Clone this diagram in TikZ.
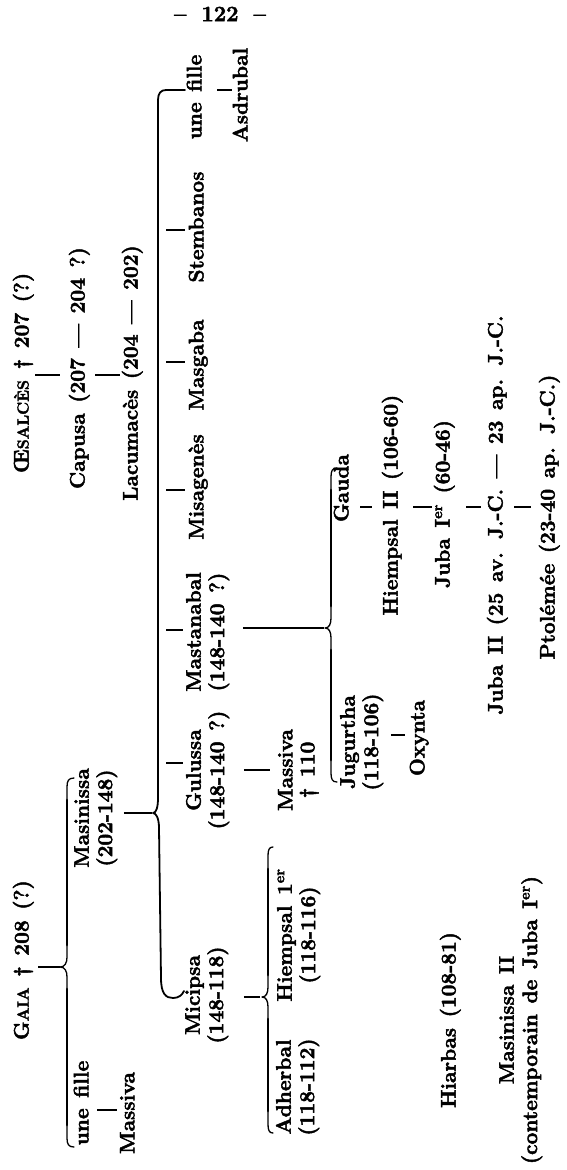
\documentclass[tikz,border=0pt]{standalone}
\usepackage{fontspec}
\setmainfont{Latin Modern Roman}[BoldFeatures={FakeBold=2.2}]
\newcommand\smc[1]{{\fontsize{16}{22}\selectfont #1}}
\newcommand\lblfont{\fontsize{21}{22}\selectfont\bfseries\spaceskip=10.5pt plus 2pt minus 1pt\relax}
\tikzset{
  lbl/.style={rotate=90, inner sep=0pt, align=center, font=\lblfont},
  conn/.style={line width=1.7pt},
  brace/.style={line width=1.3pt, line cap=round, line join=round},
  heavy/.style={line width=2.7pt, line cap=round},
  bracket/.style={line width=1.8pt, line cap=round, line join=round},
}
% vertical curly brace pointing left: X y1 ym y2 depth endcurl name
\newcommand\vbrace[7]{%
  \coordinate (#7) at ({#1-#5},#3);
  \draw[brace] ({#1+#6},#2) .. controls ({#1+0.2*#6},#2) and (#1,{#2+3}) .. (#1,{#2+9})
     -- (#1,{#3-10}) .. controls (#1,{#3-4}) and ({#1-0.3*#5},#3) .. (#7)
     .. controls ({#1-0.3*#5},#3) and (#1,{#3+4}) .. (#1,{#3+10})
     -- (#1,{#4-9}) .. controls (#1,{#4-3}) and ({#1+0.2*#6},#4) .. ({#1+#6},#4);
  \draw[heavy] (#1,{#2+22}) -- (#1,{#3-22});
  \draw[heavy] (#1,{#3+22}) -- (#1,{#4-22});
}
\begin{document}
\begin{tikzpicture}[x=1pt,y=-1pt]
\useasboundingbox (0,0) rectangle (567,1170);
\fill[white] (0,0) rectangle (567,1170);

% page number
\node[inner sep=0pt, font=\fontsize{22}{22}\selectfont\bfseries] (page) at (220,14) {–\hspace{15pt}122\hspace{15pt}–};

% roots
\node[lbl] (oes) at (24,373) {\strut Œ\smc{SALCÈS} † 207 (?)};
\node[lbl] (capusa) at (80,368) {\strut Capusa (207 — 204 ?)};
\node[lbl] (lacum) at (133,373) {\strut Lacumacès (204 — 202)};
\node[lbl] (gaia) at (24,960) {\strut G\smc{AIA} † 208 (?)};
\node[lbl] (fille1) at (84,1103) {\strut une fille};
\node[lbl] (massiva1) at (130,1113) {\strut Massiva};
\node[lbl] (masinissa) at (96,818) {\strut Masinissa\\\strut(202-148)};

% children of Masinissa
\node[lbl] (micipsa) at (207,995) {\strut Micipsa\\\strut(148-118)};
\node[lbl] (gulussa) at (208,770) {\strut Gulussa\\\strut(148-140 ?)};
\node[lbl] (mastanabal) at (208,632) {\strut Mastanabal\\\strut(148-140 ?)};
\node[lbl] (misagenes) at (199,487) {\strut Misagenès};
\node[lbl] (masgaba) at (199,365) {\strut Masgaba};
\node[lbl] (stembanos) at (199,227) {\strut Stembanos};
\node[lbl] (fille2) at (197,97) {\strut une fille};
\node[lbl] (asdrubal) at (243,95) {\strut Asdrubal};

% grandchildren
\node[lbl] (adherbal) at (298,1087) {\strut Adherbal\\\strut(118-112)};
\node[lbl] (hiempsal1) at (299,935) {\strut Hiempsal 1\textsuperscript{er}\\\strut(118-116)};
\node[lbl] (massiva2) at (299,770) {\strut Massiva\\\strut† 110};
\node[lbl] (jugurtha) at (362,742) {\strut Jugurtha\\\strut(118-106)};
\node[lbl] (oxynta) at (420,738) {\strut Oxynta};
\node[lbl] (gauda) at (344,488) {\strut Gauda};
\node[lbl] (hiempsal2) at (393,505) {\strut Hiempsal II (106-60)};
\node[lbl] (juba1) at (445,504) {\strut Juba I\textsuperscript{er} (60-46)};
\node[lbl] (juba2) at (498,515) {\strut Juba II (25 av. J.-C. — 23 ap. J.-C.};
\node[lbl] (ptolemee) at (550,517) {\strut Ptolémée (23-40 ap. J.-C.)};
\node[lbl] (hiarbas) at (451,1020) {\strut Hiarbas (108-81)};
\node[lbl] (masinissa2) at (521,1020) {\strut Masinissa II\\\strut(contemporain de Juba I\textsuperscript{er})};

% braces
\vbrace{67}{778}{967}{1147}{7}{7}{b1tip}
\vbrace{268}{847}{997}{1133}{6}{5}{b3tip}
\vbrace{331}{468}{628}{782}{6}{6}{b4tip}

% big bracket of Masinissa's children
\coordinate (b2tip) at (153,813);
\coordinate (b2r) at (166,0);
\draw[bracket] (185,90) -- (166,90) .. controls (161,90) and (158,93) .. (158,100)
   -- (158,798) .. controls (158,808) and (156,813) .. (b2tip)
   .. controls (156,813) and (159,818) .. (159,828)
   -- (161,978) .. controls (161,994) and (166,998) .. (173,998)
   .. controls (179,998) and (182,995) .. (184,991);

% connectors
\draw[conn, shorten >=9pt] (oes.south |- 0,375) -- (capusa.north |- 0,375);
\draw[conn, shorten <=4pt, shorten >=2pt] (capusa.south |- 0,375) -- (lacum.north |- 0,375);
\draw[conn, shorten <=3pt] (gaia.south |- 0,967) -- (b1tip);
\draw[conn, shorten <=2pt, shorten >=2pt] (fille1.south |- 0,1110) -- (massiva1.north |- 0,1110);
\draw[conn, shorten <=5pt, shorten >=1pt] (masinissa.south |- 0,813) -- (b2tip);
\draw[conn, shorten >=3pt] (b2r |- 0,230) -- (stembanos.north |- 0,230);
\draw[conn, shorten >=3pt] (b2r |- 0,362) -- (masgaba.north |- 0,362);
\draw[conn, shorten >=3pt] (b2r |- 0,490) -- (misagenes.north |- 0,490);
\draw[conn, shorten >=2pt] (b2r |- 0,630) -- (mastanabal.north |- 0,630);
\draw[conn, shorten >=2pt] (b2r |- 0,763) -- (gulussa.north |- 0,763);
\draw[conn, shorten <=9pt] (fille2.south |- 0,90) -- (asdrubal.north |- 0,90);
\draw[conn, shorten <=14pt, shorten >=2pt] (micipsa.south |- 0,997) -- (b3tip);
\draw[conn, shorten <=13pt, shorten >=7pt] (gulussa.south |- 0,770) -- (massiva2.north |- 0,770);
\draw[conn, shorten <=12pt, shorten >=1pt] (mastanabal.south |- 0,628) -- (b4tip);
\draw[conn, shorten <=6pt, shorten >=4pt] (jugurtha.south |- 0,735) -- (oxynta.north |- 0,735);
\draw[conn, shorten <=5pt, shorten >=10pt] (gauda.south |- 0,507) -- (hiempsal2.north |- 0,507);
\draw[conn, shorten <=9pt, shorten >=2pt] (hiempsal2.south |- 0,507) -- (juba1.north |- 0,507);
\draw[conn, shorten <=10pt, shorten >=6pt] (juba1.south |- 0,507) -- (juba2.north |- 0,507);
\draw[conn, shorten <=5pt, shorten >=8pt] (juba2.south |- 0,507) -- (ptolemee.north |- 0,507);
\end{tikzpicture}
\end{document}
